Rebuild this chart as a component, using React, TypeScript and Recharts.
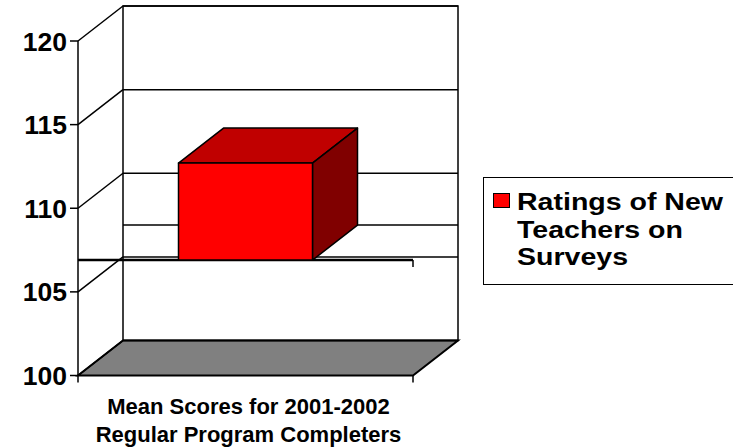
import { Bar, BarChart, Legend, ReferenceArea, ReferenceLine, XAxis, YAxis } from 'recharts'

// chart data
const categories = ['Mean Scores for 2001-2002\nRegular Program Completers']
const seriesName = 'Ratings of New Teachers on Surveys'
const ratingValues = [112.7]
const floorCrossing = 106.9
const yTicks = [100, 105, 110, 115, 120]

const data = categories.map((category, i) => ({
  category,
  rating: [floorCrossing, ratingValues[i]],
}))

const DEPTH_X = 45
const DEPTH_Y = -35
const FONT = '"Liberation Sans", Arial, sans-serif'

const Walls = (props: any) => {
  const { x, y, width, height } = props
  const bottom = y + height
  const floor = [
    [x, bottom],
    [x + width, bottom],
    [x + width + DEPTH_X, bottom + DEPTH_Y],
    [x + DEPTH_X, bottom + DEPTH_Y],
  ]
    .map((p) => p.join(','))
    .join(' ')
  return (
    <g stroke="#000" strokeWidth={1.5}>
      <rect x={x + DEPTH_X} y={y + DEPTH_Y} width={width} height={height} fill="#fff" />
      <polygon points={floor} fill="#808080" strokeWidth={2} />
      <line x1={x} y1={bottom} x2={x} y2={bottom + 7} />
      <line x1={x + width} y1={bottom} x2={x + width} y2={bottom + 7} />
    </g>
  )
}

const GridLine = (props: any) => {
  const { x1, y1, x2, y2 } = props
  return (
    <g stroke="#000" strokeWidth={1.5}>
      <line x1={x1} y1={y1} x2={x1 + DEPTH_X} y2={y1 + DEPTH_Y} />
      <line x1={x1 + DEPTH_X} y1={y1 + DEPTH_Y} x2={x2 + DEPTH_X} y2={y2 + DEPTH_Y} />
    </g>
  )
}

const CrossingPlane = (props: any) => {
  const { x1, y1, x2, y2 } = props
  return (
    <g stroke="#000">
      <line x1={x1 + DEPTH_X} y1={y1 + DEPTH_Y} x2={x2 + DEPTH_X} y2={y2 + DEPTH_Y} strokeWidth={1.5} />
      <line x1={x1} y1={y1} x2={x2} y2={y2} strokeWidth={2.5} />
      <line x1={x2} y1={y2} x2={x2} y2={y2 + 7} strokeWidth={1.5} />
    </g>
  )
}

const Box3D = (props: any) => {
  const { x, y, width, height } = props
  const top = [
    [x, y],
    [x + DEPTH_X, y + DEPTH_Y],
    [x + width + DEPTH_X, y + DEPTH_Y],
    [x + width, y],
  ]
    .map((p) => p.join(','))
    .join(' ')
  const side = [
    [x + width, y],
    [x + width + DEPTH_X, y + DEPTH_Y],
    [x + width + DEPTH_X, y + height + DEPTH_Y],
    [x + width, y + height],
  ]
    .map((p) => p.join(','))
    .join(' ')
  return (
    <g stroke="#000" strokeWidth={1.5} strokeLinejoin="round">
      <polygon points={top} fill="#C00000" />
      <polygon points={side} fill="#800000" />
      <rect x={x} y={y} width={width} height={height} fill="#FF0000" />
    </g>
  )
}

const YTick = (props: any) => {
  const { x, y, payload } = props
  return (
    <text x={x} y={y} dy={9.5} textAnchor="end" fontFamily={FONT} fontWeight="bold" fontSize={26.5} fill="#000">
      {payload.value}
    </text>
  )
}

const XTick = (props: any) => {
  const { x, y, payload } = props
  const lines = String(payload.value).split('\n')
  return (
    <text x={x + 3} y={y} textAnchor="middle" fontFamily={FONT} fontWeight="bold" fontSize={22} fill="#000">
      {lines.map((line, i) => (
        <tspan key={line} x={x + 3} dy={i === 0 ? 38.5 : 28}>
          {line}
        </tspan>
      ))}
    </text>
  )
}

const LegendBox = (props: any) => {
  const { payload = [] } = props
  return (
    <div
      style={{
        position: 'relative',
        width: 262,
        height: 108,
        boxSizing: 'border-box',
        border: '1.5px solid #000',
        background: '#fff',
        fontFamily: FONT,
      }}
    >
      {payload.map((entry: any) => (
        <div key={entry.value}>
          <span
            style={{
              position: 'absolute',
              left: 9,
              top: 15,
              width: 17,
              height: 15,
              boxSizing: 'border-box',
              border: '1.5px solid #000',
              background: entry.color,
            }}
          />
          <div
            style={{
              position: 'absolute',
              left: 33,
              top: 11,
              width: 175,
              fontSize: 23,
              fontWeight: 'bold',
              lineHeight: '27.5px',
              color: '#000',
              transform: 'scaleX(1.24)',
              transformOrigin: 'left top',
            }}
          >
            {entry.value}
          </div>
        </div>
      ))}
    </div>
  )
}

export default function App() {
  return (
    <div style={{ position: 'absolute', left: 0, top: 0, width: 733, height: 447, overflow: 'hidden', background: '#fff' }}>
      <BarChart
        width={733}
        height={447}
        data={data}
        margin={{ top: 41, right: 320, left: 8, bottom: 11.5 }}
        barCategoryGap="30%"
      >
        <ReferenceArea y1={100} y2={120} ifOverflow="visible" shape={Walls} zIndex={-90} />
        {yTicks.map((v) => (
          <ReferenceLine key={v} y={v} ifOverflow="visible" shape={GridLine} zIndex={-80} />
        ))}
        <ReferenceLine y={floorCrossing} ifOverflow="visible" shape={CrossingPlane} zIndex={-70} />
        <Bar dataKey="rating" name={seriesName} fill="#FF0000" shape={Box3D} isAnimationActive={false} />
        <XAxis dataKey="category" height={60} axisLine={false} tickLine={false} tickSize={0} tickMargin={0} tick={XTick} interval={0} />
        <YAxis
          type="number"
          domain={[100, 120]}
          ticks={yTicks}
          interval={0}
          width={70}
          tickSize={8}
          tickMargin={3}
          axisLine={{ stroke: '#000', strokeWidth: 1.5 }}
          tickLine={{ stroke: '#000', strokeWidth: 1.5 }}
          tick={YTick}
        />
        <Legend
          layout="horizontal"
          verticalAlign="middle"
          content={LegendBox}
          wrapperStyle={{ position: 'absolute', left: 483, top: 177, width: 262, height: 108 }}
        />
      </BarChart>
    </div>
  )
}
